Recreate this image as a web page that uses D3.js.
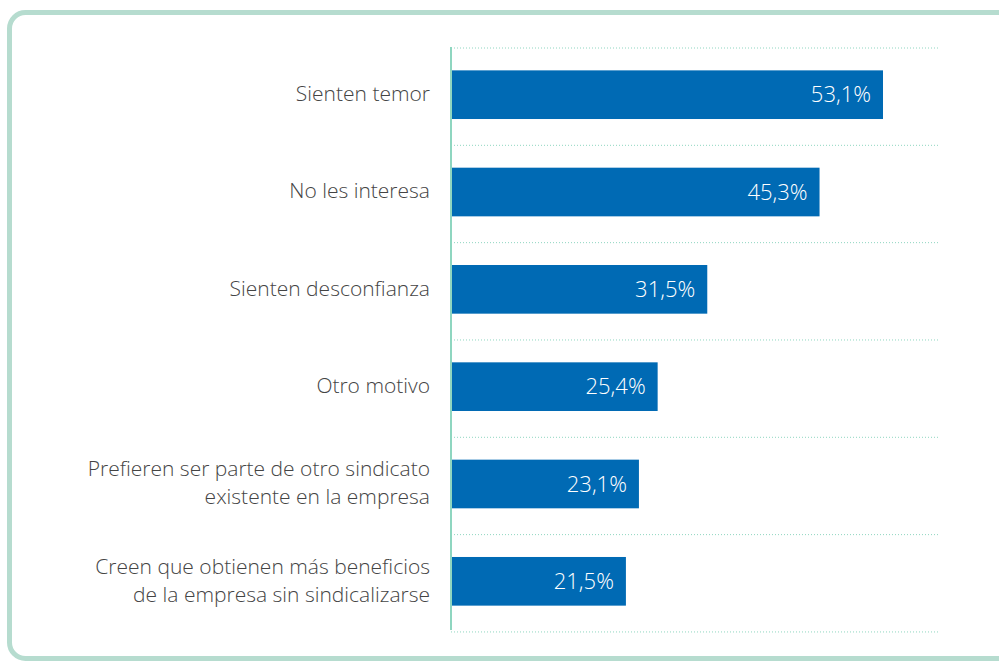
<!DOCTYPE html>
<html lang="es">
<head>
  <meta charset="UTF-8">
  <title>Motivos</title>
  <style>
    body { margin: 0; padding: 0; background: #fff; }
    svg { display: block; font-family: "Open Sans", "Noto Sans", sans-serif; }
    .cat-label { fill: #444; font-size: 21px; font-weight: 300; }
    .val-label { fill: #fff; font-size: 22px; font-weight: 300; }
  </style>
</head>
<body>
  <svg id="chart" width="999" height="662"></svg>
  <script src="https://d3js.org/d3.v7.min.js"></script>
  <script>
    const categories = [
      ["Sienten temor"],
      ["No les interesa"],
      ["Sienten desconfianza"],
      ["Otro motivo"],
      ["Prefieren ser parte de otro sindicato", "existente en la empresa"],
      ["Creen que obtienen más beneficios", "de la empresa sin sindicalizarse"]
    ];
    const values = [53.1, 45.3, 31.5, 25.4, 23.1, 21.5];
    const valueLabels = ["53,1%", "45,3%", "31,5%", "25,4%", "23,1%", "21,5%"];

    const svg = d3.select('#chart');

    // frame
    svg.append('rect')
      .attr('x', 9.5).attr('y', 12.5)
      .attr('width', 1040).attr('height', 646)
      .attr('rx', 16).attr('ry', 16)
      .attr('fill', 'none')
      .attr('stroke', '#b6dccf')
      .attr('stroke-width', 5);

    const x0 = 451;
    const x = d3.scaleLinear().domain([0, 53.1]).range([x0, 883]);
    const y = d3.scaleBand()
      .domain(d3.range(values.length))
      .range([47, 629])
      .paddingInner(0.5)
      .paddingOuter(0.24);

    const step = y.step();
    const gridYs = d3.range(values.length + 1).map(i => 48 + i * step);

    svg.selectAll('.grid')
      .data(gridYs)
      .enter()
      .append('line')
      .attr('class', 'grid')
      .attr('x1', x0).attr('x2', 940)
      .attr('y1', d => d).attr('y2', d => d)
      .attr('stroke', '#8fd6c0')
      .attr('stroke-width', 1)
      .attr('stroke-dasharray', '1,2');

    svg.selectAll('.bar')
      .data(values)
      .enter()
      .append('rect')
      .attr('class', 'bar')
      .attr('x', x0)
      .attr('y', (d, i) => y(i))
      .attr('width', d => x(d) - x0)
      .attr('height', y.bandwidth())
      .attr('fill', '#006ab4');

    svg.append('line')
      .attr('x1', x0).attr('x2', x0)
      .attr('y1', 47).attr('y2', 630)
      .attr('stroke', '#8fd6c0')
      .attr('stroke-width', 2);

    svg.selectAll('.val-label')
      .data(values)
      .enter()
      .append('text')
      .attr('class', 'val-label')
      .attr('x', d => x(d) - 12)
      .attr('y', (d, i) => y(i) + y.bandwidth() / 2)
      .attr('dy', '0.35em')
      .attr('text-anchor', 'end')
      .text((d, i) => valueLabels[i]);

    const lineH = 28;
    const labels = svg.selectAll('.cat-label')
      .data(categories)
      .enter()
      .append('text')
      .attr('class', 'cat-label')
      .attr('text-anchor', 'end')
      .attr('transform', (d, i) => `translate(430, ${y(i) + y.bandwidth() / 2})`);

    labels.selectAll('tspan')
      .data(d => d.map((t, k) => ({ t, k, n: d.length })))
      .enter()
      .append('tspan')
      .attr('x', 0)
      .attr('y', d => (d.k - (d.n - 1) / 2) * lineH)
      .attr('dy', '0.3em')
      .text(d => d.t);
  </script>
</body>
</html>
